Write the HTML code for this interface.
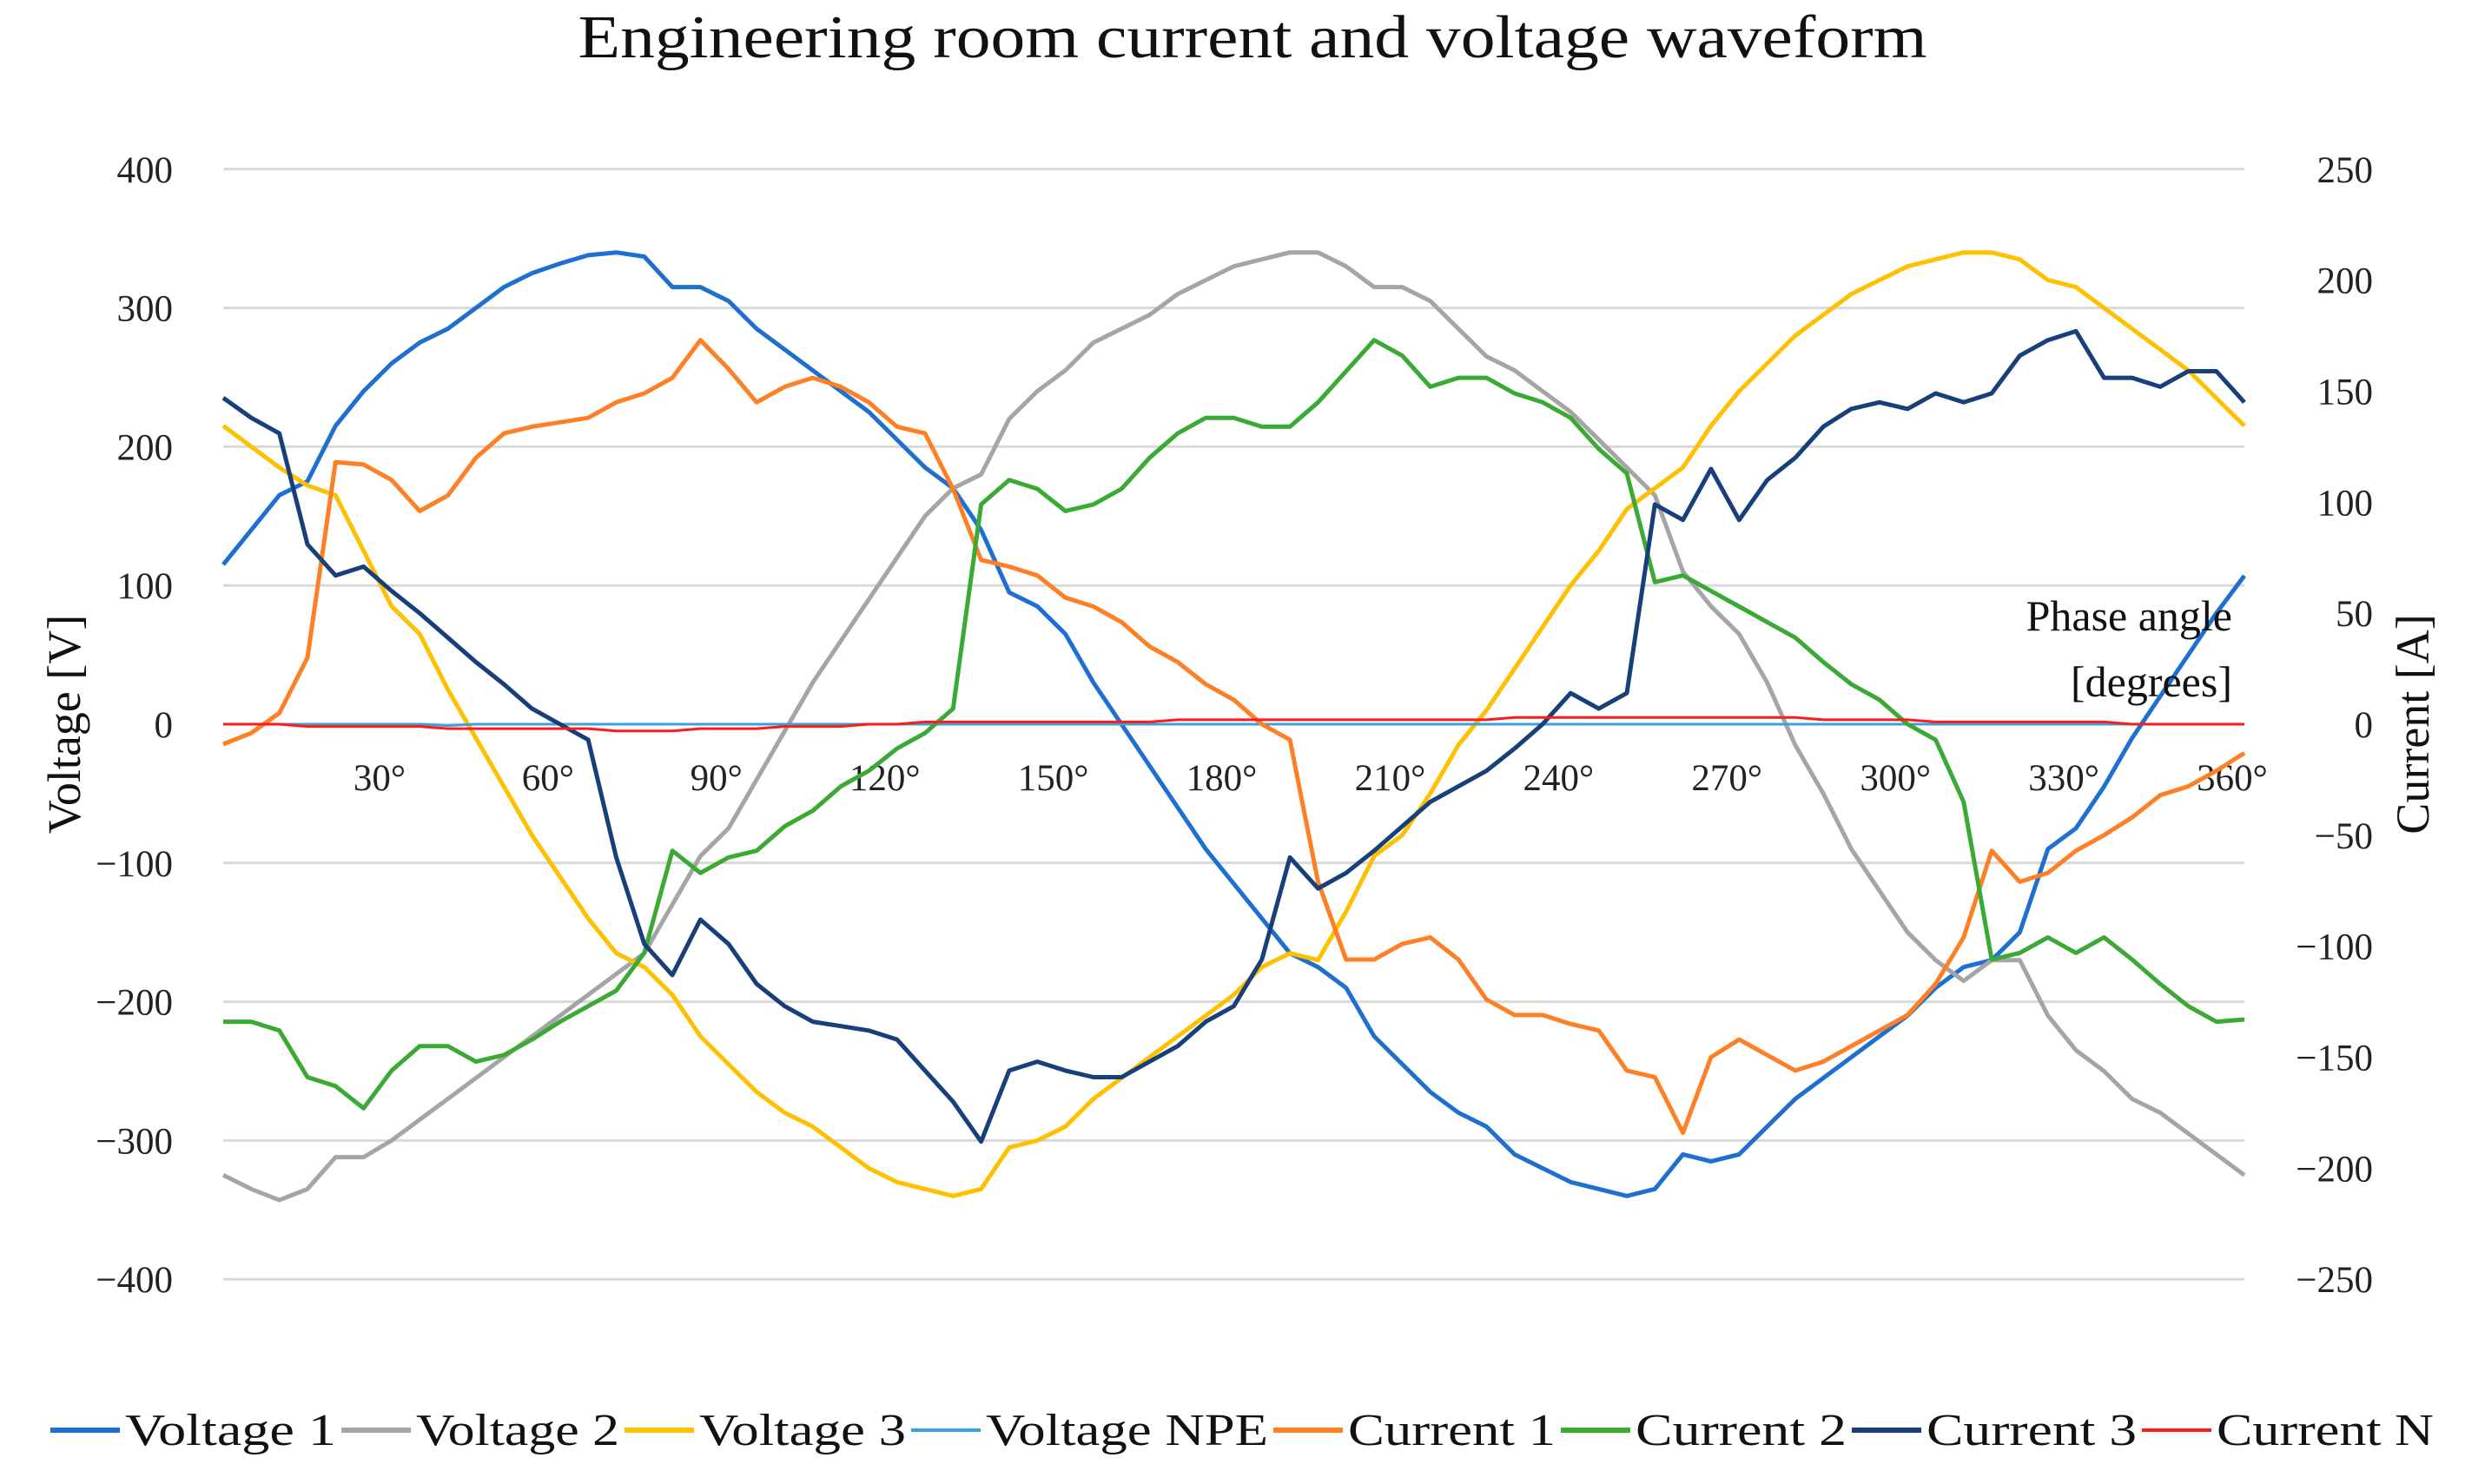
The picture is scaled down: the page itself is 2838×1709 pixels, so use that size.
<!DOCTYPE html>
<html><head><meta charset="utf-8">
<style>
html,body{margin:0;padding:0;background:#fff;}
svg{display:block;font-family:"Liberation Serif",serif;}
</style></head>
<body>
<svg id="chart" width="2838" height="1709" viewBox="0 0 2838 1709">
<text x="1442" y="66" font-size="70" text-anchor="middle" textLength="1553" lengthAdjust="spacingAndGlyphs" fill="#111">Engineering room current and voltage waveform</text>
<g id="grid"></g>
<g id="yleft"></g>
<g id="yright"></g>
<g id="xlab"></g>
<text transform="translate(92,834) rotate(-90)" font-size="54" text-anchor="middle" fill="#111">Voltage [V]</text>
<text transform="translate(2796,834) rotate(-90)" font-size="54" text-anchor="middle" fill="#111">Current [A]</text>
<g id="series"></g>
<text x="2570" y="726" font-size="50" text-anchor="end" fill="#111"><tspan x="2570">Phase angle</tspan><tspan x="2570" dy="76">[degrees]</tspan></text>
<g id="legend"></g>
</svg>
<script>
const angles=[0,5,10,15,20,25,30,35,40,45,50,55,60,65,70,75,80,85,90,95,100,105,110,115,120,125,130,135,140,145,150,155,160,165,170,175,180,185,190,195,200,205,210,215,220,225,230,235,240,245,250,255,260,265,270,275,280,285,290,295,300,305,310,315,320,325,330,335,340,345,350,355,360];
const voltage1=[115,140,165,175,215,240,260,275,285,300,315,325,332,338,340,337,315,315,305,285,270,255,240,225,205,185,170,140,95,85,65,30,0,-30,-60,-90,-115,-140,-165,-175,-190,-225,-245,-265,-280,-290,-310,-320,-330,-335,-340,-335,-310,-315,-310,-290,-270,-255,-240,-225,-210,-190,-175,-170,-150,-90,-75,-45,-10,20,50,80,107];
const voltage2=[-325,-335,-343,-335,-312,-312,-300,-285,-270,-255,-240,-225,-210,-195,-180,-165,-130,-95,-75,-40,-5,30,60,90,120,150,170,180,220,240,255,275,285,295,310,320,330,335,340,340,330,315,315,305,285,265,255,240,225,205,185,165,110,85,65,30,-15,-50,-90,-120,-150,-170,-185,-170,-170,-210,-235,-250,-270,-280,-295,-310,-325];
const voltage3=[215,200,185,172,165,125,85,65,25,-10,-45,-80,-110,-140,-165,-175,-195,-225,-245,-265,-280,-290,-305,-320,-330,-335,-340,-335,-305,-300,-290,-270,-255,-240,-225,-210,-195,-175,-165,-170,-135,-95,-80,-50,-15,10,40,70,100,125,155,170,185,215,240,260,280,295,310,320,330,335,340,340,335,320,315,300,285,270,255,235,215];
const voltageNPE=[0,0,0,0,0,0,0,0,-1,0,0,0,0,0,0,0,0,0,0,0,0,0,0,0,0,0,0,0,0,0,0,0,0,0,0,0,0,0,0,0,0,0,0,0,0,0,0,0,0,0,0,0,0,0,0,0,0,0,0,0,0,0,0,0,0,0,0,0,0,0,0,0,0];
const current1=[-9,-4,5,30,118,117,110,96,103,120,131,134,136,138,145,149,156,173,160,145,152,156,152,145,134,131,106,74,71,67,57,53,46,35,28,18,11,0,-7,-71,-106,-106,-99,-96,-106,-124,-131,-131,-135,-138,-156,-159,-184,-150,-142,-149,-156,-152,-145,-138,-131,-117,-96,-57,-71,-67,-57,-50,-42,-32,-28,-21,-13];
const current2=[-134,-134,-138,-159,-163,-173,-156,-145,-145,-152,-149,-142,-134,-127,-120,-103,-57,-67,-60,-57,-46,-39,-28,-21,-11,-4,7,99,110,106,96,99,106,120,131,138,138,134,134,145,159,173,166,152,156,156,149,145,138,124,113,64,67,60,53,46,39,28,18,11,0,-7,-35,-106,-103,-96,-103,-96,-106,-117,-127,-134,-133];
const current3=[147,138,131,81,67,71,60,50,39,28,18,7,0,-7,-60,-99,-113,-88,-99,-117,-127,-134,-136,-138,-142,-156,-170,-188,-156,-152,-156,-159,-159,-152,-145,-134,-127,-106,-60,-74,-67,-57,-46,-35,-28,-21,-11,0,14,7,14,99,92,115,92,110,120,134,142,145,142,149,145,149,166,173,177,156,156,152,159,159,145];
const currentN=[0,0,0,-1,-1,-1,-1,-1,-2,-2,-2,-2,-2,-2,-3,-3,-3,-2,-2,-2,-1,-1,-1,0,0,1,1,1,1,1,1,1,1,1,2,2,2,2,2,2,2,2,2,2,2,2,3,3,3,3,3,3,3,3,3,3,3,2,2,2,2,1,1,1,1,1,1,1,0,0,0,0,0];
const leftTicks=[400,300,200,100,0,-100,-200,-300,-400];
const rightTicks=[250,200,150,100,50,0,-50,-100,-150,-200,-250];
const xTickLabels=["30°","60°","90°","120°","150°","180°","210°","240°","270°","300°","330°","360°"];
const xTickValues=[30,60,90,120,150,180,210,240,270,300,330,360];
const seriesNames=["Voltage 1","Voltage 2","Voltage 3","Voltage NPE","Current 1","Current 2","Current 3","Current N"];

const NS="http://www.w3.org/2000/svg";
const X0=257,X1=2584,Y0=834,PX_PER_V=159.8/100;
const xS=a=>X0+(X1-X0)*a/360;
const yV=v=>Y0-v*PX_PER_V;
const yA=a=>yV(a*1.6);
function mk(tag,attrs,parent){const e=document.createElementNS(NS,tag);for(const k in attrs)e.setAttribute(k,attrs[k]);parent.appendChild(e);return e;}
const grid=document.getElementById('grid'),yl=document.getElementById('yleft'),yr=document.getElementById('yright'),xl=document.getElementById('xlab'),sg=document.getElementById('series'),lg=document.getElementById('legend');
leftTicks.forEach(v=>{
  const l=mk('line',{x1:X0,x2:X1,y1:yV(v),y2:yV(v),stroke:'#d9d9d9','stroke-width':3},grid);
  
  
  const t=mk('text',{x:199,y:yV(v)+15,'font-size':43,'text-anchor':'end',fill:'#222'},yl);
  t.textContent=(v<0?'\u2212'+(-v):v);
  
  
});
rightTicks.forEach(v=>{
  const t=mk('text',{x:2732,y:yA(v)+15,'font-size':43,'text-anchor':'end',fill:'#222'},yr);
  t.textContent=(v<0?'\u2212'+(-v):v);
  
  
});
xTickValues.forEach((a,i)=>{
  const t=mk('text',{x:xS(a)-14,y:910,'font-size':43,'text-anchor':'middle',fill:'#222'},xl);
  t.textContent=xTickLabels[i];
  
  
});
const defs=[
 [voltage1,yV,'#1f6fd1',5,'voltage-1-line'],
 [voltage2,yV,'#a5a5a5',5,'voltage-2-line'],
 [voltage3,yV,'#ffc000',5,'voltage-3-line'],
 [voltageNPE,yV,'#3aa0e0',3,'voltage-npe-line'],
 [current1,yA,'#ff7f27',5,'current-1-line'],
 [current2,yA,'#3aaa35',5,'current-2-line'],
 [current3,yA,'#173f7a',5,'current-3-line'],
 [currentN,yA,'#ff1a1a',3,'current-n-line']];
defs.forEach(d=>{
  const pts=d[0].map((v,i)=>xS(angles[i]).toFixed(1)+','+d[1](v).toFixed(1)).join(' ');
  const p=mk('polyline',{points:pts,fill:'none',stroke:d[2],'stroke-width':d[3],'stroke-linejoin':'round'},sg);
  
  
});
const legX=[58,393,719,1049,1466,1797,2132,2466];
seriesNames.forEach((n,i)=>{
  const l=mk('line',{x1:legX[i],x2:legX[i]+80,y1:1647,y2:1647,stroke:defs[i][2],'stroke-width':defs[i][3]+1},lg);
  
  
  const end=(i<legX.length-1?legX[i+1]-6:2802);
  const t=mk('text',{x:legX[i]+86,y:1664,'font-size':52,fill:'#111',textLength:end-(legX[i]+86),lengthAdjust:'spacingAndGlyphs'},lg);
  t.textContent=n;
  
  
});
</script>
</body></html>
